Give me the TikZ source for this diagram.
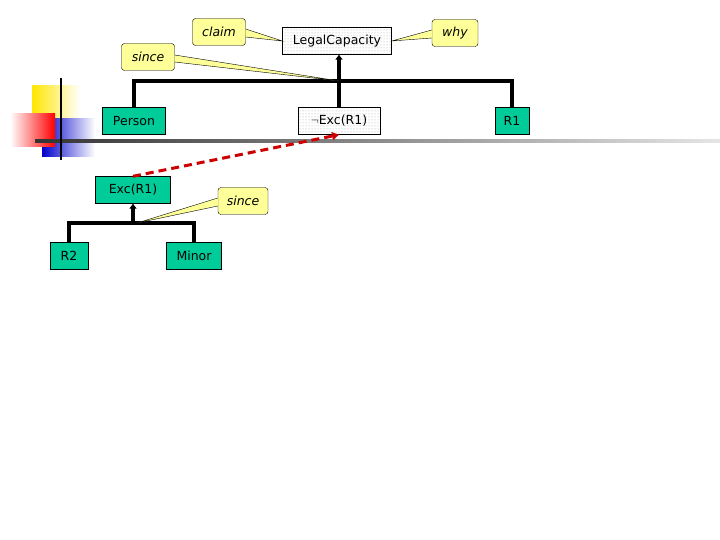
\documentclass[tikz,border=0pt]{standalone}
\usepackage{fontspec}
\setmainfont{DejaVu Sans}
\usetikzlibrary{patterns,arrows.meta}
\definecolor{nodegreen}{RGB}{0,204,153}
\definecolor{noteyellow}{RGB}{255,255,153}
\begin{document}
\begin{tikzpicture}
[
    x=1pt, y=-1pt, font=\fontsize{12.5}{14}\selectfont,
    leaf/.style={draw, fill=nodegreen, minimum height=27pt, inner sep=3pt},
    goal/.style={draw, pattern=dots, pattern color=gray!70, minimum height=27pt, inner sep=3pt},
    note/.style={draw, fill=noteyellow, rounded corners=3pt, minimum height=27pt, inner sep=3pt, font=\fontsize{12.5}{14}\selectfont\itshape},
    bar/.style={line width=3.5pt},
]
\useasboundingbox (0,0) rectangle (720,540);
% decoration
\shade[left color=yellow!80!orange, right color=white] (32,86) rectangle (80,118);
\shade[left color=blue!80!black, right color=white] (42,119) rectangle (95,157);
\shade[left color=white, right color=red] (10,114) rectangle (55,147);
\shade[left color=black!80, right color=black!10] (35,140) rectangle (720,142.5);
\draw[line width=2pt] (61,78) -- (61,160);
% upper tree
\node[goal, minimum width=109pt] (legal) at (337,41) {LegalCapacity};
\node[leaf, minimum width=63pt] (person) at (134,121) {Person};
\node[goal, minimum width=82pt] (nexc) at (339,121) {$\neg$Exc(R1)};
\node[leaf, minimum width=34pt] (r1) at (512,121) {R1};
\coordinate (top) at (339,81);
\draw[bar] (person.north) |- (top) -| (r1.north);
\draw[bar] (nexc.north) -- (top);
\draw[bar, -{Triangle[length=5pt,width=7pt]}] (top) -- (legal.south -| top);
% lower tree
\node[leaf, minimum width=75pt] (exc) at (133,190) {Exc(R1)};
\node[leaf, minimum width=38pt] (r2) at (69,256) {R2};
\node[leaf, minimum width=55pt] (minor) at (194,256) {Minor};
\coordinate (low) at (133,223);
\draw[bar] (r2.north) |- (low) -| (minor.north);
\draw[bar, -{Triangle[length=5pt,width=7pt]}] (low) -- (exc.south);
\draw[red!80!black, line width=3pt, dash pattern=on 8pt off 5pt, -{Triangle[length=7pt,width=8pt]}] (exc.north) -- (nexc.south);
% notes
\node[note, minimum width=53pt] (claim) at (219,32) {claim};
\node[note, minimum width=53pt] (since1) at (148,57) {since};
\node[note, minimum width=46pt] (why) at (455,33) {why};
\node[note, minimum width=50pt] (since2) at (243,201) {since};
\filldraw[fill=noteyellow] ([yshift=3pt]claim.east) -- (legal.west) -- ([yshift=-5pt]claim.east);
\filldraw[fill=noteyellow] ([yshift=2pt]since1.east) -- (top) -- ([yshift=-5pt]since1.east);
\filldraw[fill=noteyellow] ([yshift=3pt]why.west) -- (legal.east) -- ([yshift=-5pt]why.west);
\filldraw[fill=noteyellow] ([yshift=3pt]since2.west) -- ([xshift=4pt]low) -- ([yshift=-5pt]since2.west);
\end{tikzpicture}
\end{document}
